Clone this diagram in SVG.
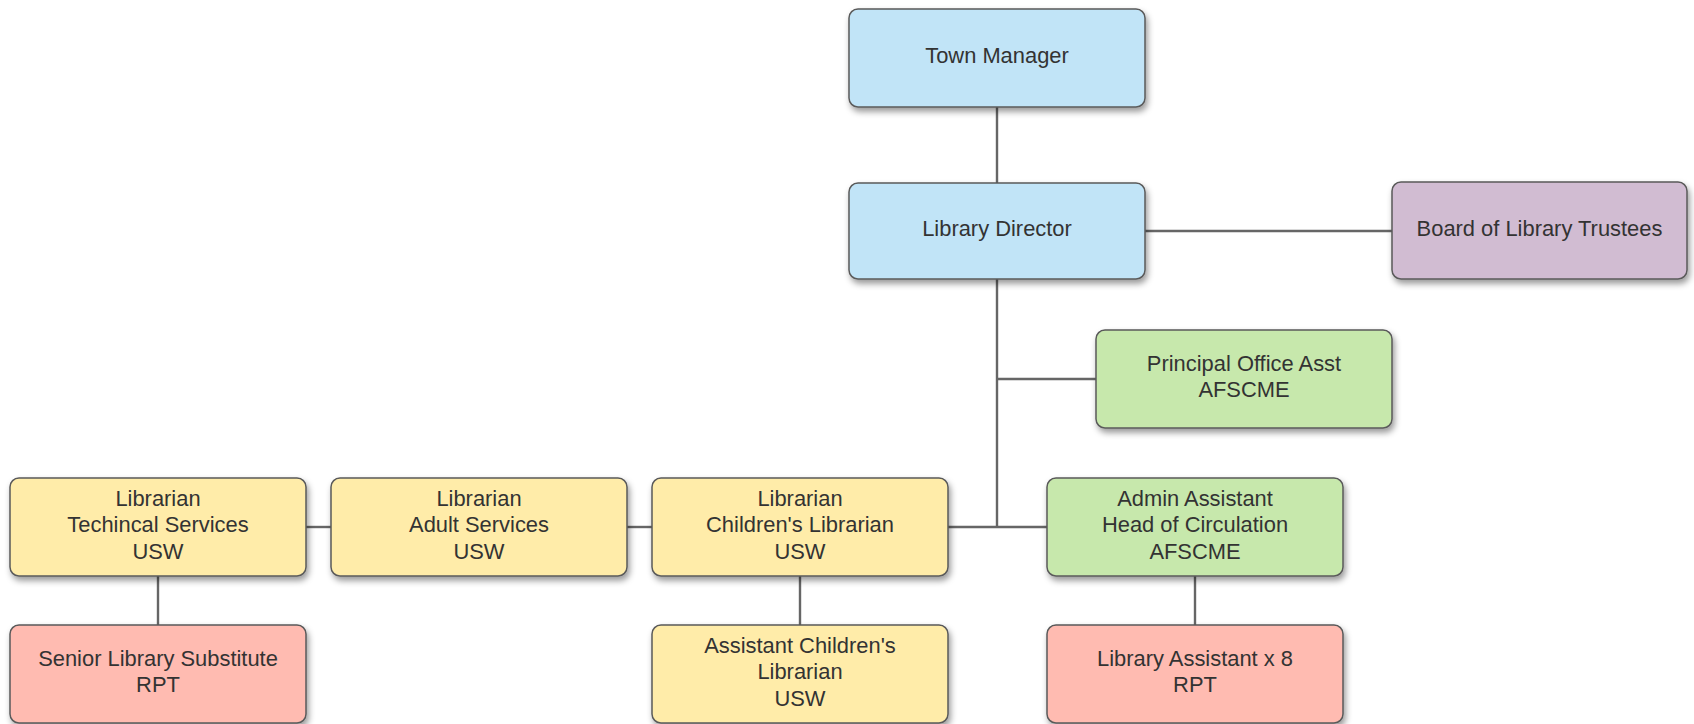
<svg xmlns="http://www.w3.org/2000/svg" width="1694" height="724" viewBox="0 0 1694 724">
<defs>
<filter id="sh" x="-10%" y="-10%" width="125%" height="135%">
<feDropShadow dx="2" dy="4" stdDeviation="3" flood-color="#000" flood-opacity="0.4"/>
</filter>
<style>
.box{stroke:#5a5a5a;stroke-width:1.5;filter:url(#sh)}
.blue{fill:#c1e4f7}.purple{fill:#d1bcd2}.green{fill:#c7e8ac}.yellow{fill:#ffeca9}.red{fill:#ffbbb1}
text{font-family:"Liberation Sans",Arial,sans-serif;font-size:21.9px;fill:#333;text-anchor:middle}
.con{stroke:#666;stroke-width:2.4;fill:none}
</style>
</defs>
<rect width="1694" height="724" fill="#fff"/>
<g id="connectors">
<line class="con" x1="997" y1="107" x2="997" y2="183"/>
<line class="con" x1="1145" y1="231" x2="1392" y2="231"/>
<line class="con" x1="997" y1="279" x2="997" y2="527"/>
<line class="con" x1="997" y1="379" x2="1096" y2="379"/>
<line class="con" x1="948" y1="527" x2="1047" y2="527"/>
<line class="con" x1="306" y1="527" x2="331" y2="527"/>
<line class="con" x1="627" y1="527" x2="652" y2="527"/>
<line class="con" x1="158" y1="576" x2="158" y2="625"/>
<line class="con" x1="800" y1="576" x2="800" y2="625"/>
<line class="con" x1="1195" y1="576" x2="1195" y2="625"/>
</g>
<g id="town-manager">
<rect class="box blue" x="849" y="9" width="296" height="98" rx="9"/>
<text x="997" y="63">Town Manager</text>
</g>
<g id="library-director">
<rect class="box blue" x="849" y="183" width="296" height="96" rx="9"/>
<text x="997" y="236">Library Director</text>
</g>
<g id="board-of-trustees">
<rect class="box purple" x="1392" y="182" width="295" height="97" rx="9"/>
<text x="1539.5" y="236">Board of Library Trustees</text>
</g>
<g id="principal-office-asst">
<rect class="box green" x="1096" y="330" width="296" height="98" rx="9"/>
<text x="1244" y="370.5">Principal Office Asst</text>
<text x="1244" y="397">AFSCME</text>
</g>
<g id="librarian-technical">
<rect class="box yellow" x="10" y="478" width="296" height="98" rx="9"/>
<text x="158" y="505.5">Librarian</text>
<text x="158" y="532">Techincal Services</text>
<text x="158" y="558.5">USW</text>
</g>
<g id="librarian-adult">
<rect class="box yellow" x="331" y="478" width="296" height="98" rx="9"/>
<text x="479" y="505.5">Librarian</text>
<text x="479" y="532">Adult Services</text>
<text x="479" y="558.5">USW</text>
</g>
<g id="librarian-children">
<rect class="box yellow" x="652" y="478" width="296" height="98" rx="9"/>
<text x="800" y="505.5">Librarian</text>
<text x="800" y="532">Children's Librarian</text>
<text x="800" y="558.5">USW</text>
</g>
<g id="admin-assistant">
<rect class="box green" x="1047" y="478" width="296" height="98" rx="9"/>
<text x="1195" y="505.5">Admin Assistant</text>
<text x="1195" y="532">Head of Circulation</text>
<text x="1195" y="558.5">AFSCME</text>
</g>
<g id="senior-library-substitute">
<rect class="box red" x="10" y="625" width="296" height="98" rx="9"/>
<text x="158" y="665.5">Senior Library Substitute</text>
<text x="158" y="692">RPT</text>
</g>
<g id="assistant-childrens-librarian">
<rect class="box yellow" x="652" y="625" width="296" height="98" rx="9"/>
<text x="800" y="652.5">Assistant Children's</text>
<text x="800" y="679">Librarian</text>
<text x="800" y="705.5">USW</text>
</g>
<g id="library-assistant">
<rect class="box red" x="1047" y="625" width="296" height="98" rx="9"/>
<text x="1195" y="665.5">Library Assistant x 8</text>
<text x="1195" y="692">RPT</text>
</g>
</svg>
